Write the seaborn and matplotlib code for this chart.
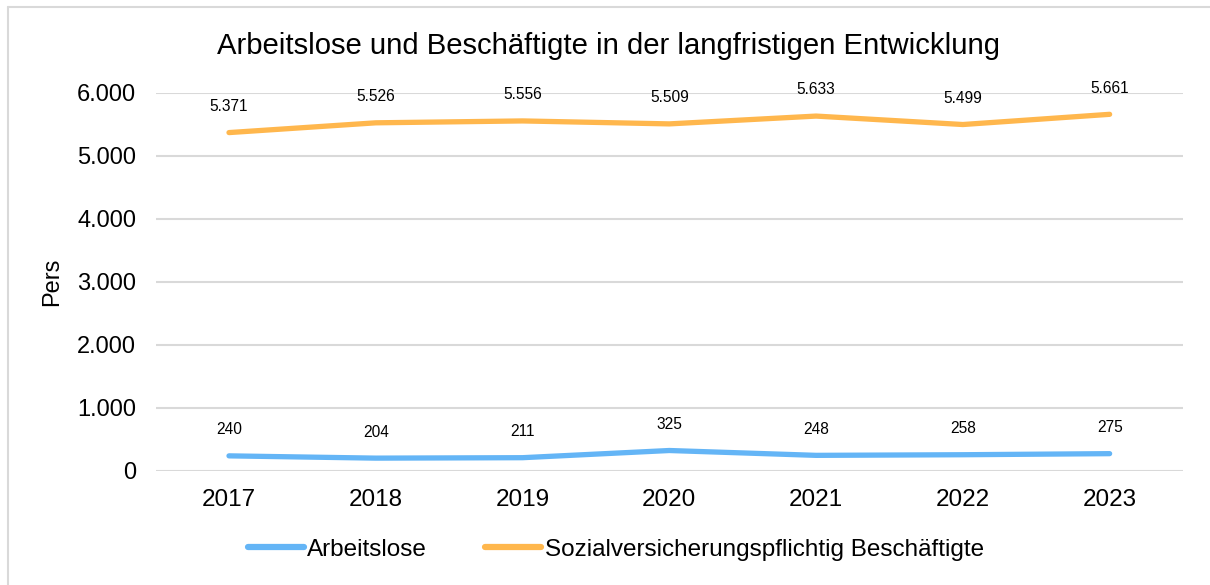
import matplotlib
matplotlib.use("Agg")
import matplotlib.pyplot as plt
from matplotlib.lines import Line2D
import seaborn as sns
import pandas as pd

years = ["2017", "2018", "2019", "2020", "2021", "2022", "2023"]
arbeitslose = [240, 204, 211, 325, 248, 258, 275]
beschaeftigte = [5371, 5526, 5556, 5509, 5633, 5499, 5661]
series_names = ["Arbeitslose", "Sozialversicherungspflichtig Beschäftigte"]
y_ticks = [0, 1000, 2000, 3000, 4000, 5000, 6000]

colors = {series_names[0]: "#64B5F6", series_names[1]: "#FFB74D"}

df = pd.DataFrame({
    "Jahr": years * 2,
    "Wert": arbeitslose + beschaeftigte,
    "Reihe": [series_names[0]] * len(years) + [series_names[1]] * len(years),
})

sns.set_theme(style="white")
plt.rcParams["font.family"] = ["Liberation Sans", "DejaVu Sans"]
plt.rcParams["text.color"] = "black"
plt.rcParams["xtick.color"] = "black"
plt.rcParams["ytick.color"] = "black"
plt.rcParams["axes.labelcolor"] = "black"

fig = plt.figure(figsize=(12.1, 5.85), dpi=100)
ax = fig.add_axes([0.1286, 0.1949, 0.8491, 0.6462])

sns.lineplot(data=df, x="Jahr", y="Wert", hue="Reihe", palette=colors,
             linewidth=3.8, ax=ax, legend=False, sort=False,
             solid_capstyle="round")

def fmt(v):
    return f"{v:,}".replace(",", ".")

for vals in (arbeitslose, beschaeftigte):
    for i, v in enumerate(vals):
        ax.annotate(fmt(v), (i, v), xytext=(0, 18.8), textcoords="offset points",
                    ha="center", va="center", fontsize=11.2, color="black")

ax.set_xlim(-0.5, len(years) - 0.5)
ax.set_ylim(0, 6000)
ax.set_yticks(y_ticks)
ax.set_yticklabels([fmt(t) for t in y_ticks], fontsize=17)
ax.tick_params(axis="x", labelsize=17.5, pad=13, length=0)
ax.tick_params(axis="y", pad=14, length=0)
ax.yaxis.grid(True, color="#D9D9D9", linewidth=1.5)
ax.set_axisbelow(True)
for s in ax.spines.values():
    s.set_visible(False)
ax.set_xlabel("")
ax.set_ylabel("Pers", fontsize=17)
ax.yaxis.set_label_coords(-0.090, 0.5)

fig.text(0.503, 0.921, "Arbeitslose und Beschäftigte in der langfristigen Entwicklung",
         ha="center", va="center", fontsize=21.1)

handles = [Line2D([0], [0], color=colors[n], linewidth=4.5, solid_capstyle="round")
           for n in series_names]
fig.legend(handles, series_names, loc="center", bbox_to_anchor=(0.509, 0.06),
           ncol=2, frameon=False, fontsize=17.5, handlelength=2.3, handletextpad=0.15,
           columnspacing=2.4)

# outer frame (top and left edges)
fig.add_artist(Line2D([8 / 1210, 1.0], [1 - 6.5 / 585] * 2, transform=fig.transFigure,
                      color="#D9D9D9", linewidth=1.5))
fig.add_artist(Line2D([8 / 1210] * 2, [0, 1 - 6.5 / 585], transform=fig.transFigure,
                      color="#D9D9D9", linewidth=1.5))

fig.savefig("out.png", dpi=100, facecolor="white")
